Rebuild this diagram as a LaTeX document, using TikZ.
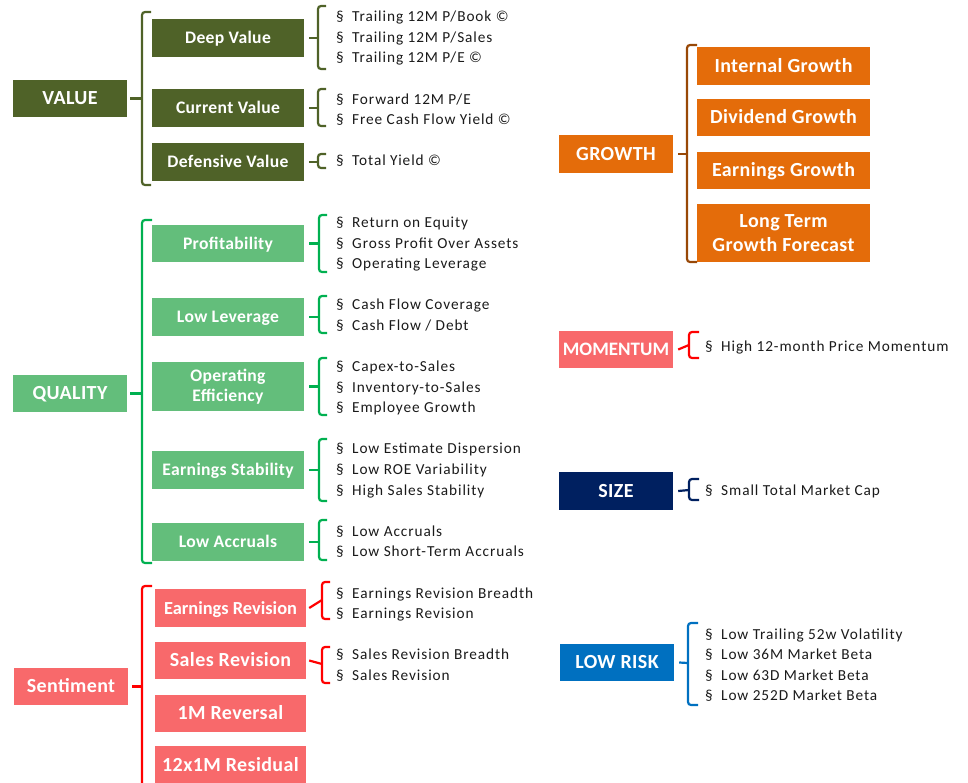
\documentclass[tikz,border=0pt]{standalone}
\usepackage{fontspec}
\setmainfont{Carlito}
\newfontfamily\bulfont[LetterSpace=6]{Carlito}
\newfontfamily\boxfont[LetterSpace=2]{Carlito}
\definecolor{valg}{HTML}{4F6228}
\definecolor{qualg}{HTML}{63BE7B}
\definecolor{qualbr}{HTML}{00B050}
\definecolor{sal}{HTML}{F8696B}
\definecolor{redbr}{HTML}{FF0000}
\definecolor{org}{HTML}{E46C0A}
\definecolor{orgbr}{HTML}{984807}
\definecolor{navy}{HTML}{002060}
\definecolor{blu}{HTML}{0070C0}
\definecolor{txt}{HTML}{1A1A1A}
\tikzset{
  box/.style={rectangle, inner sep=0pt, text=white, align=center, font={\boxfont\bfseries\fontsize{17.6}{20.5}\selectfont}},
  bigbox/.style={box, font={\boxfont\bfseries\fontsize{20}{24}\selectfont}},
  sl/.style={text height=13.2pt, text depth=2pt},
  bsl/.style={text height=15pt, text depth=2.2pt},
  brk/.style={line width=2.2pt, rounded corners=3pt},
  tick/.style={line width=2.2pt},
  bul/.style={anchor=base west, inner sep=0pt, text=txt, font={\bulfont\fontsize{15.3}{18}\selectfont}}
}
% bracket: color, xv, ytop, ybot, hook length
\newcommand\mybrk[5]{\draw[brk,#1] (#2+#5,#3) -- (#2,#3) -- (#2,#4) -- (#2+#5,#4);}
\newcommand\mybul[4]{\node[bul] (#1) at (#2,#3+5.2) {\makebox[16pt][l]{§}#4};}
\begin{document}
\begin{tikzpicture}[x=1pt,y=-1pt]
\useasboundingbox (0,0) rectangle (968,782);

% ---------------- VALUE ----------------
\node[bigbox, bsl, fill=valg, minimum width=114pt, minimum height=37pt] (val) at (70,98.5) {VALUE};
\node[box, sl, fill=valg, minimum width=152pt, minimum height=38pt] (dv) at (228,38) {Deep Value};
\node[box, sl, fill=valg, minimum width=152pt, minimum height=38pt] (cv) at (228,108) {Current Value};
\node[box, sl, fill=valg, minimum width=152pt, minimum height=38pt] (fv) at (228,162) {Defensive Value};
\mybrk{valg}{142}{12}{185}{9}
\draw[tick,valg] ([xshift=3pt]val.east) -- (142,98.5);
\mybrk{valg}{318}{6}{69}{8}
\draw[tick,valg] ([xshift=5pt]dv.east) -- (318,38);
\mybrk{valg}{318}{89}{126}{8}
\draw[tick,valg] ([xshift=5pt]cv.east) -- (318,108);
\mybrk{valg}{318}{154}{168}{8}
\draw[tick,valg] ([xshift=5pt]fv.east) -- (318,162);
\mybul{v1}{336}{16}{Trailing 12M P/Book ©}
\mybul{v2}{336}{37}{Trailing 12M P/Sales}
\mybul{v3}{336}{57}{Trailing 12M P/E ©}
\mybul{v4}{336}{99}{Forward 12M P/E}
\mybul{v5}{336}{119}{Free Cash Flow Yield ©}
\mybul{v6}{336}{160}{Total Yield ©}

% ---------------- QUALITY ----------------
\node[bigbox, bsl, fill=qualg, minimum width=114pt, minimum height=37pt] (qual) at (70,393.5) {QUALITY};
\node[box, sl, fill=qualg, minimum width=152pt, minimum height=37pt] (pr) at (228,243.5) {Profitability};
\node[box, sl, fill=qualg, minimum width=152pt, minimum height=38pt] (ll) at (228,317) {Low Leverage};
\node[box, fill=qualg, minimum width=152pt, minimum height=49pt] (oe) at (228,386.5) {Operating\\Efficiency};
\node[box, sl, fill=qualg, minimum width=152pt, minimum height=38pt] (es) at (228,470) {Earnings Stability};
\node[box, sl, fill=qualg, minimum width=152pt, minimum height=38pt] (la) at (228,542) {Low Accruals};
\mybrk{qualbr}{142}{220}{563}{10}
\draw[tick,qualbr] ([xshift=3pt]qual.east) -- (142,393.5);
\mybrk{qualbr}{319}{215}{272}{8}
\draw[tick,qualbr] ([xshift=5pt]pr.east) -- (319,243.5);
\mybrk{qualbr}{319}{296}{333}{8}
\draw[tick,qualbr] ([xshift=5pt]ll.east) -- (319,317);
\mybrk{qualbr}{319}{358}{415}{8}
\draw[tick,qualbr] ([xshift=5pt]oe.east) -- (319,386.5);
\mybrk{qualbr}{319}{439}{501}{8}
\draw[tick,qualbr] ([xshift=5pt]es.east) -- (319,470);
\mybrk{qualbr}{319}{520}{560}{8}
\draw[tick,qualbr] ([xshift=5pt]la.east) -- (319,542);
\mybul{q1}{336}{222}{Return on Equity}
\mybul{q2}{336}{243}{Gross Profit Over Assets}
\mybul{q3}{336}{263}{Operating Leverage}
\mybul{q4}{336}{304}{Cash Flow Coverage}
\mybul{q5}{336}{325}{Cash Flow / Debt}
\mybul{q6}{336}{366}{Capex-to-Sales}
\mybul{q7}{336}{387}{Inventory-to-Sales}
\mybul{q8}{336}{407}{Employee Growth}
\mybul{q9}{336}{448}{Low Estimate Dispersion}
\mybul{q10}{336}{469}{Low ROE Variability}
\mybul{q11}{336}{490}{High Sales Stability}
\mybul{q12}{336}{531}{Low Accruals}
\mybul{q13}{336}{551}{Low Short-Term Accruals}

% ---------------- SENTIMENT ----------------
\node[bigbox, bsl, fill=sal, minimum width=114pt, minimum height=37pt] (sent) at (71,686.5) {Sentiment};
\node[bigbox, bsl, fill=sal, minimum width=151pt, minimum height=38pt, font={\bfseries\fontsize{18.4}{22}\selectfont}] (er) at (230.5,608) {Earnings Revision};
\node[bigbox, bsl, fill=sal, minimum width=151pt, minimum height=37pt] (sr) at (230.5,660.5) {Sales Revision};
\node[bigbox, bsl, fill=sal, minimum width=151pt, minimum height=37pt] (rev) at (230.5,713.5) {1M Reversal};
\node[bigbox, bsl, fill=sal, minimum width=151pt, minimum height=38pt] (res) at (230.5,765) {12x1M Residual};
\mybrk{redbr}{142}{586}{800}{10}
\draw[tick,redbr] ([xshift=4pt]sent.east) -- (142,686.5);
\mybrk{redbr}{322}{582}{619}{8}
\draw[tick,redbr] ([xshift=3pt]er.east) -- (322,600);
\mybrk{redbr}{322}{647}{683}{8}
\draw[tick,redbr] ([xshift=3pt]sr.east) -- (322,664);
\mybul{s1}{336}{593}{Earnings Revision Breadth}
\mybul{s2}{336}{613}{Earnings Revision}
\mybul{s3}{336}{654}{Sales Revision Breadth}
\mybul{s4}{336}{675}{Sales Revision}

% ---------------- GROWTH ----------------
\node[bigbox, bsl, fill=org, minimum width=114pt, minimum height=38pt] (gro) at (616,154) {GROWTH};
\node[bigbox, bsl, fill=org, minimum width=173pt, minimum height=38pt] (ig) at (783.5,66) {Internal Growth};
\node[bigbox, bsl, fill=org, minimum width=173pt, minimum height=37pt] (dg) at (783.5,117.5) {Dividend Growth};
\node[bigbox, bsl, fill=org, minimum width=173pt, minimum height=37pt] (eg) at (783.5,170.5) {Earnings Growth};
\node[bigbox, fill=org, minimum width=173pt, minimum height=58pt] (lt) at (783.5,233) {Long Term\\Growth Forecast};
\mybrk{orgbr}{687}{45}{262}{10}
\draw[tick,orgbr] ([xshift=5pt]gro.east) -- (687,154);

% ---------------- MOMENTUM ----------------
\node[bigbox, bsl, fill=sal, minimum width=114pt, minimum height=37pt, font={\bfseries\fontsize{19}{22}\selectfont}] (mom) at (616,349.5) {MOMENTUM};
\mybrk{redbr}{689}{332}{358}{10}
\draw[tick,redbr] ([xshift=5pt]mom.east) -- (689,345);
\mybul{m1}{705}{346}{High 12-month Price Momentum}

% ---------------- SIZE ----------------
\node[bigbox, bsl, fill=navy, minimum width=114pt, minimum height=38pt] (size) at (616,491) {SIZE};
\mybrk{navy}{689}{479}{500}{10}
\draw[tick,navy] ([xshift=5pt]size.east) -- (689,490);
\mybul{z1}{705}{490}{Small Total Market Cap}

% ---------------- LOW RISK ----------------
\node[bigbox, bsl, fill=blu, minimum width=114pt, minimum height=37pt] (lr) at (617,662.5) {LOW RISK};
\mybrk{blu}{688}{623}{705}{10}
\draw[tick,blu] ([xshift=5pt]lr.east) -- (688,663);
\mybul{r1}{705}{634}{Low Trailing 52w Volatility}
\mybul{r2}{705}{654}{Low 36M Market Beta}
\mybul{r3}{705}{675}{Low 63D Market Beta}
\mybul{r4}{705}{695}{Low 252D Market Beta}
\end{tikzpicture}
\end{document}
